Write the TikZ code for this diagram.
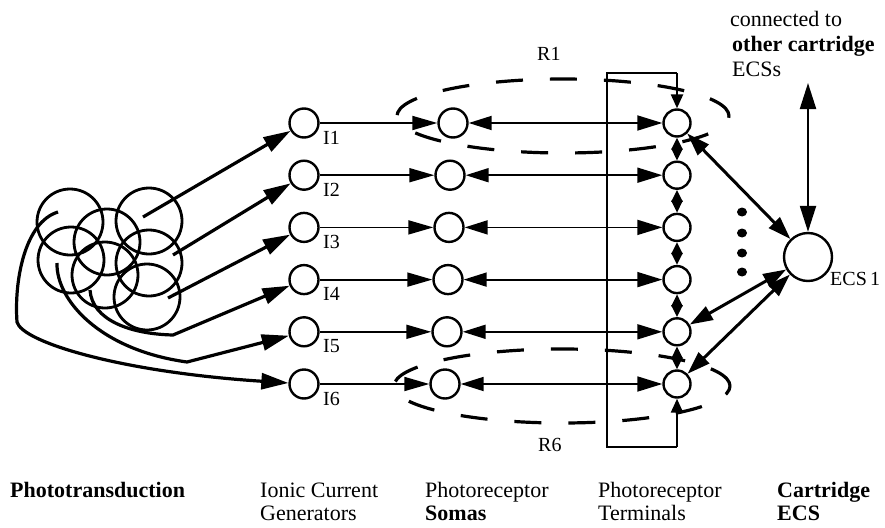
\documentclass[tikz,border=0pt]{standalone}
\usepackage{fontspec}
\setmainfont{Liberation Serif}
\usetikzlibrary{arrows.meta}
\begin{document}
\begin{tikzpicture}[x=1pt,y=-1pt,
  cell/.style={circle,draw,line width=2.4pt,minimum size=29pt,inner sep=0pt},
  term/.style={circle,draw,line width=2.4pt,minimum size=27pt,inner sep=0pt},
  ecs/.style={circle,draw,line width=2.4pt,minimum size=48pt,inner sep=0pt},
  photo/.style={line width=2.8pt},
  big/.style={-{Triangle[length=27pt,width=16pt]},line width=3.2pt},
  thinarr/.style={-{Triangle[length=25pt,width=14pt]},line width=1.8pt},
  biarr/.style={{Triangle[length=23pt,width=14pt]}-{Triangle[length=25pt,width=15pt]},line width=1.8pt},
  bibig/.style={{Triangle[length=23pt,width=15pt]}-{Triangle[length=23pt,width=15pt]},line width=3pt},
  vbi/.style={{Triangle[length=26pt,width=16pt]}-{Triangle[length=26pt,width=16pt]},line width=2.2pt},
  smallbi/.style={{Triangle[length=12pt,width=11pt]}-{Triangle[length=12pt,width=11pt]},line width=2.4pt},
  endarr/.style={-{Triangle[length=14pt,width=12pt]},line width=2.4pt},
  region/.style={dash pattern=on 27pt off 27pt,line width=3.2pt},
  lbl/.style={anchor=base west,inner sep=0pt,font=\fontsize{22}{24}\selectfont},
  blbl/.style={anchor=base west,inner sep=0pt,font=\fontsize{22}{24}\selectfont\bfseries},
  ilbl/.style={anchor=base west,inner sep=0pt,font=\fontsize{20}{22}\selectfont}
]
\useasboundingbox (0,0) rectangle (885,527);

% phototransduction circles
\foreach \cx/\cy in {70/222,149/221,107/242,71/260,149/263,105/275,147/297}
  \draw[photo] (\cx,\cy) circle[radius=33pt];

% ionic current generators
\node[cell] (I1) at (304,123) {};
\node[cell] (I2) at (304,175.2) {};
\node[cell] (I3) at (304,227.4) {};
\node[cell] (I4) at (304,279.6) {};
\node[cell] (I5) at (304,331.8) {};
\node[cell] (I6) at (304,384) {};
\node[ilbl] (l1) at (323,144) {I1};
\node[ilbl] (l2) at (323,196.2) {I2};
\node[ilbl] (l3) at (323,248.4) {I3};
\node[ilbl] (l4) at (323,300.6) {I4};
\node[ilbl] (l5) at (323,352.8) {I5};
\node[ilbl] (l6) at (323,405) {I6};

% somas
\node[cell] (S1) at (453,123) {};
\node[cell] (S2) at (450,175.2) {};
\node[cell] (S3) at (449,227.4) {};
\node[cell] (S4) at (448,279.6) {};
\node[cell] (S5) at (447,331.8) {};
\node[cell] (S6) at (445,384) {};

% terminals
\node[term] (T1) at (677,123) {};
\node[term] (T2) at (677,175.2) {};
\node[term] (T3) at (677,227.4) {};
\node[term] (T4) at (677,279.6) {};
\node[term] (T5) at (677,331.8) {};
\node[term] (T6) at (677,384) {};

% ECS
\node[ecs] (E) at (808,257) {};
\node[ilbl] (el) at (830,285) {ECS\,1};
\coordinate (etop) at (808,83);

% rectangle
\coordinate (rtr) at (677,73);
\coordinate (rtl) at (607,73);
\coordinate (rbl) at (607,447);
\coordinate (rbr) at (677,447);
\draw[line width=2.4pt] (rtr) -- (rtl) -- (rbl) -- (rbr);
\draw[endarr] (rtr) -- (T1);
\draw[endarr] (rbr) -- (T6);
\draw[smallbi] (T1) -- (T2);
\draw[smallbi] (T2) -- (T3);
\draw[smallbi] (T3) -- (T4);
\draw[smallbi] (T4) -- (T5);
\draw[smallbi] (T5) -- (T6);

% phototransduction to generators
\coordinate (s1) at (143,217);
\coordinate (s2) at (173,255);
\coordinate (s3) at (168,298);
\coordinate (s4) at (90,290);
\coordinate (k4) at (173,335);
\coordinate (s5) at (57,263);
\coordinate (k5) at (187,362);
\coordinate (s6) at (58,212);
\draw[big] (s1) -- (I1);
\draw[big] (s2) -- (I2);
\draw[big] (s3) -- (I3);
\draw[big] (s4) .. controls (92,320) and (130,334) .. (k4) -- (I4);
\draw[big] (s5) .. controls (56,300) and (100,350) .. (k5) -- (I5);
\draw[big] (s6) .. controls (25,222) and (14,280) .. (17,322) .. controls (22,342) and (120,372) .. (I6);

% generators to somas
\foreach \k in {1,...,6} \draw[thinarr] (I\k) -- (S\k);
% somas to terminals
\foreach \k in {1,...,6} \draw[biarr] (S\k) -- (T\k);

% terminals to ECS
\draw[bibig] (T1) -- (E);
\draw[bibig] (T5) -- (E);
\draw[bibig] (T6) -- (E);
\draw[vbi] (etop) -- (E);

% dots
\foreach \dy in {212,233,253,272}
  \fill (742,\dy) ellipse[x radius=5pt,y radius=4.5pt];

% regions
\draw[region] (563,116) ellipse[x radius=166pt,y radius=37pt];
\draw[region] (562,386) ellipse[x radius=168pt,y radius=37pt];
\node[ilbl] (r1) at (537,60) {R1};
\node[ilbl] (r6) at (538,451) {R6};

% top right text
\node[lbl] (t1) at (730,27) {connected to};
\node[blbl] (t2) at (732,52) {other cartridge};
\node[lbl] (t3) at (732,77) {ECSs};

% bottom labels
\node[blbl] (b1) at (10,497) {Phototransduction};
\node[lbl] (b2a) at (260,497) {Ionic Current};
\node[lbl] (b2b) at (260,520) {Generators};
\node[lbl] (b3a) at (425,497) {Photoreceptor};
\node[blbl] (b3b) at (425,520) {Somas};
\node[lbl] (b4a) at (598,497) {Photoreceptor};
\node[lbl] (b4b) at (598,520) {Terminals};
\node[blbl] (b5a) at (777,497) {Cartridge};
\node[blbl] (b5b) at (777,520) {ECS};
\end{tikzpicture}
\end{document}
